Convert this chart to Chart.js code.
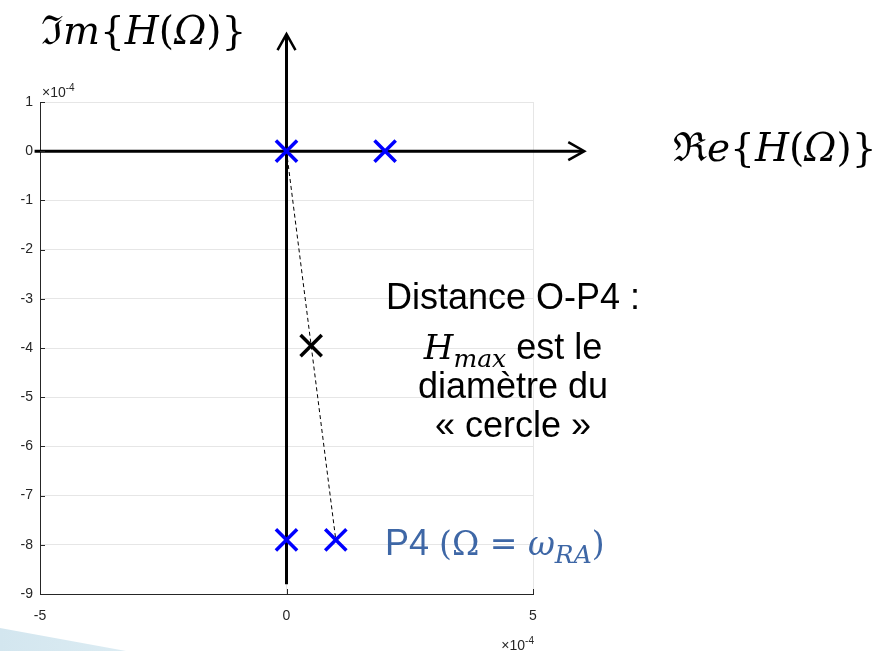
<!DOCTYPE html>
<html>
<head>
<meta charset="utf-8">
<script src="https://cdn.jsdelivr.net/npm/chart.js@4/dist/chart.umd.min.js"></script>
<style>
  html, body { margin: 0; padding: 0; background: #fff; }
  #wrap { position: relative; width: 881px; height: 651px; overflow: hidden; }
  #deco {
    position: absolute; left: 0; top: 0; width: 881px; height: 651px;
    background: linear-gradient(90deg, #d3e6ef 0px, #dcecf3 130px);
    clip-path: polygon(0 628px, 126px 651px, 0 651px);
  }
  canvas { position: absolute; left: 0; top: 0; }
</style>
</head>
<body>
<div id="wrap">
  <div id="deco"></div>
  <canvas id="plan" width="881" height="651"></canvas>
</div>
<script>
'use strict';

{
  // pôles (bleu) : origine, point sur l'axe réel, P4 et sa projection
  const poleRe = [0, 2e-4, 0, 1e-4];
  const poleIm = [0, 0, -7.9e-4, -7.9e-4];

  // centre du cercle (noir)
  const centreRe = [0.5e-4];
  const centreIm = [-3.95e-4];

  // diamètre O-P4 en pointillés
  const diamRe = [0, 1e-4];
  const diamIm = [0, -7.9e-4];

  // graduations
  const xTicks = [-5e-4, 0, 5e-4];
  const yTicks = [1e-4, 0, -1e-4, -2e-4, -3e-4, -4e-4, -5e-4, -6e-4, -7e-4, -8e-4, -9e-4];
  const tickUnit = 1e-4;

  // étendue des axes Re / Im tracés en flèches
  const reAxis = [-5.11e-4, 6.04e-4];
  const imAxis = [-8.8e-4, 2.38e-4];

  const SANS = "'Liberation Sans', Arial, sans-serif";
  const MATH = "'DejaVu Serif', serif";
  const TXT = '#262626';

  const toPoints = (xs, ys) => xs.map((v, i) => ({ x: v, y: ys[i] }));

  // écrit une suite de morceaux de texte [texte, police, décalage vertical]
  function drawRuns(ctx, runs, x, y, align) {
    let w = 0;
    runs.forEach(r => { ctx.font = r[1]; w += ctx.measureText(r[0]).width; });
    let cx = x;
    if (align === 'center') cx = x - w / 2;
    if (align === 'right') cx = x - w;
    runs.forEach(r => {
      ctx.font = r[1];
      ctx.fillText(r[0], cx, y + (r[2] || 0));
      cx += ctx.measureText(r[0]).width;
    });
  }

  function arrowHead(ctx, tx, ty, dx, dy) {
    // chevron ouvert, dx/dy = direction de la flèche
    const back = 16, side = 9;
    const nx = -dy, ny = dx;
    ctx.beginPath();
    ctx.moveTo(tx - dx * back + nx * side, ty - dy * back + ny * side);
    ctx.lineTo(tx, ty);
    ctx.lineTo(tx - dx * back - nx * side, ty - dy * back - ny * side);
    ctx.stroke();
  }

  // axes Re et Im en traits épais avec flèches
  const axesArrows = {
    id: 'axesArrows',
    beforeDatasetsDraw(chart) {
      const { ctx, scales: { x, y } } = chart;
      const x0 = x.getPixelForValue(0);
      const y0 = y.getPixelForValue(0);
      const xa = x.getPixelForValue(reAxis[0]);
      const xb = x.getPixelForValue(reAxis[1]);
      const ya = y.getPixelForValue(imAxis[0]);
      const yb = y.getPixelForValue(imAxis[1]);
      ctx.save();
      ctx.strokeStyle = '#000';
      ctx.lineWidth = 3;
      ctx.beginPath();
      ctx.moveTo(xa, y0);
      ctx.lineTo(xb - 2, y0);
      ctx.moveTo(x0, ya);
      ctx.lineTo(x0, yb + 2);
      ctx.stroke();
      ctx.lineWidth = 2.5;
      arrowHead(ctx, xb, y0, 1, 0);
      arrowHead(ctx, x0, yb, 0, -1);
      ctx.restore();
    }
  };

  // petites graduations vers l'intérieur + textes
  const annotations = {
    id: 'annotations',
    afterDraw(chart) {
      const { ctx, scales: { x, y }, chartArea } = chart;
      ctx.save();
      ctx.strokeStyle = TXT;
      ctx.lineWidth = 1;
      ctx.beginPath();
      yTicks.forEach(v => {
        const py = Math.round(y.getPixelForValue(v)) + 0.5;
        ctx.moveTo(chartArea.left, py);
        ctx.lineTo(chartArea.left + 5, py);
      });
      xTicks.forEach(v => {
        const px = Math.round(x.getPixelForValue(v)) + 0.5;
        ctx.moveTo(px, chartArea.bottom);
        ctx.lineTo(px, chartArea.bottom - 5);
      });
      ctx.stroke();

      ctx.textBaseline = 'alphabetic';
      ctx.fillStyle = TXT;
      // facteurs d'échelle
      drawRuns(ctx, [['\u00d710', '14px ' + SANS], ['-4', '10px ' + SANS, -6]],
        chartArea.left + 2, chartArea.top - 5, 'left');
      drawRuns(ctx, [['\u00d710', '14px ' + SANS], ['-4', '10px ' + SANS, -6]],
        chartArea.right + 1, 650, 'right');

      // noms des axes
      ctx.fillStyle = '#000';
      drawRuns(ctx, [
        ['\u2111', '40px ' + MATH], ['m', 'italic 39px ' + MATH], ['{', '39px ' + MATH],
        ['H', 'italic 39px ' + MATH], ['(', '39px ' + MATH], ['\u03a9', 'italic 39px ' + MATH],
        [')}', '39px ' + MATH]
      ], 41, 44, 'left');
      drawRuns(ctx, [
        ['\u211c', '40px ' + MATH], ['e', 'italic 39px ' + MATH], ['{', '39px ' + MATH],
        ['H', 'italic 39px ' + MATH], ['(', '39px ' + MATH], ['\u03a9', 'italic 39px ' + MATH],
        [')}', '39px ' + MATH]
      ], 673, 161, 'left');

      // commentaire sur la distance O-P4
      const cx = 513;
      drawRuns(ctx, [['Distance O-P4 :', '36px ' + SANS]], cx, 309, 'center');
      drawRuns(ctx, [
        ['H', 'italic 34px ' + MATH], ['max', 'italic 25px ' + MATH, 8], [' est le', '36px ' + SANS]
      ], cx, 359, 'center');
      drawRuns(ctx, [['diam\u00e8tre du', '36px ' + SANS]], cx, 398, 'center');
      drawRuns(ctx, [['\u00ab cercle \u00bb', '36px ' + SANS]], cx, 437, 'center');

      // étiquette du point P4
      ctx.fillStyle = '#3e67a6';
      drawRuns(ctx, [
        ['P4 ', '36px ' + SANS], ['(\u03a9 = ', '33px ' + MATH], ['\u03c9', 'italic 33px ' + MATH],
        ['RA', 'italic 25px ' + MATH, 8], [')', '33px ' + MATH]
      ], 385, 555, 'left');
      ctx.restore();
    }
  };

  const tickFont = { family: SANS, size: 14 };

  new Chart(document.getElementById('plan').getContext('2d'), {
    type: 'scatter',
    data: {
      datasets: [
        {
          data: toPoints(poleRe, poleIm),
          pointStyle: 'crossRot',
          pointRadius: 15,
          pointBorderColor: '#0000ff',
          pointBorderWidth: 3.5,
        },
        {
          data: toPoints(centreRe, centreIm),
          pointStyle: 'crossRot',
          pointRadius: 15,
          pointBorderColor: '#000000',
          pointBorderWidth: 3.5,
        },
        {
          data: toPoints(diamRe, diamIm),
          showLine: true,
          borderColor: '#000000',
          borderWidth: 1,
          borderDash: [4, 3],
          pointRadius: 0,
        },
      ]
    },
    options: {
      responsive: false,
      animation: false,
      events: [],
      layout: { padding: { top: 102, right: 348, left: 0, bottom: 0 } },
      plugins: {
        legend: { display: false },
        tooltip: { enabled: false },
      },
      scales: {
        x: {
          type: 'linear',
          min: -5e-4,
          max: 5e-4,
          afterBuildTicks: s => { s.ticks = xTicks.map(v => ({ value: v })); },
          afterFit: s => { s.height = 57; },
          grid: { color: '#e6e6e6', drawTicks: false },
          border: { color: TXT, width: 1 },
          ticks: {
            color: TXT,
            font: tickFont,
            padding: 14,
            maxRotation: 0,
            callback: v => Math.round(v / tickUnit),
          },
        },
        y: {
          type: 'linear',
          min: -9e-4,
          max: 1e-4,
          afterBuildTicks: s => { s.ticks = yTicks.map(v => ({ value: v })); },
          afterFit: s => { s.width = 40; },
          grid: { color: '#e6e6e6', drawTicks: false },
          border: { color: TXT, width: 1 },
          ticks: {
            color: TXT,
            font: tickFont,
            padding: 7,
            callback: v => Math.round(v / tickUnit),
          },
        },
      },
    },
    plugins: [axesArrows, annotations],
  });
}
</script>
</body>
</html>
